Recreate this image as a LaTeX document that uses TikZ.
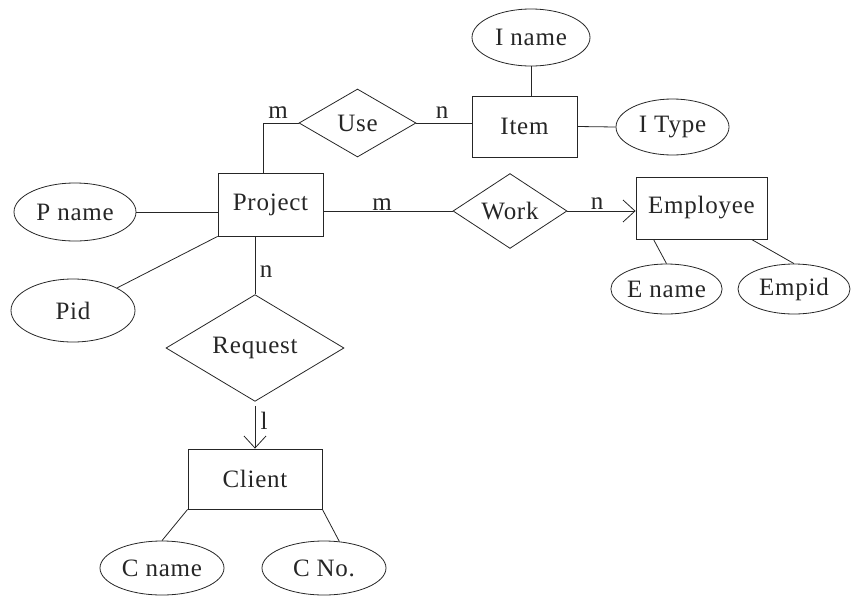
\documentclass[tikz,border=0pt]{standalone}
\usepackage{fontspec}
\setmainfont{Liberation Serif}[LetterSpace=3]
\usetikzlibrary{shapes.geometric,arrows.meta}
\begin{document}
\begin{tikzpicture}[x=1pt,y=-1pt,
  every node/.style={font=\fontsize{25}{29}\selectfont, text=black!85},
  ent/.style={draw=black!85, line width=0.8pt, rectangle, inner sep=0pt},
  attr/.style={draw=black!85, line width=0.8pt, ellipse, inner sep=0pt},
  rel/.style={draw=black!85, line width=0.8pt, diamond, inner sep=0pt},
  lbl/.style={inner sep=0pt},
  conn/.style={draw=black!85, line width=0.8pt},
  arr/.style={conn, -{Straight Barb[length=12pt,width=22pt,line width=0.8pt]}}]
\useasboundingbox (0,0) rectangle (852,595);
% entities
\node[ent, minimum width=105pt, minimum height=63pt] (project) at (270.5,204.5) {Project};
\node[ent, minimum width=105pt, minimum height=61pt] (item) at (524.5,126.5) {Item};
\node[ent, minimum width=131pt, minimum height=62pt] (employee) at (701.5,208) {Employee};
\node[ent, minimum width=134pt, minimum height=60pt] (client) at (255,479) {Client};
% attributes
\node[attr, minimum width=122pt, minimum height=58pt] (pname) at (75,212) {P name};
\node[attr, minimum width=124pt, minimum height=63pt] (pid) at (73,310.5) {Pid};
\node[attr, minimum width=118pt, minimum height=57pt] (iname) at (531,37.5) {I name};
\node[attr, minimum width=113pt, minimum height=56pt] (itype) at (672.5,127) {I Type};
\node[attr, minimum width=111pt, minimum height=50pt] (ename) at (666.5,289) {E name};
\node[attr, minimum width=112pt, minimum height=50pt] (empid) at (794,289) {Empid};
\node[attr, minimum width=124pt, minimum height=54pt] (cname) at (162,568) {C name};
\node[attr, minimum width=124pt, minimum height=54pt] (cno) at (324,568) {C No.};
% relationships
\node[rel, minimum width=117pt, minimum height=68pt] (use) at (357.5,123) {Use};
\node[rel, minimum width=114pt, minimum height=70pt] (work) at (510,211) {Work};
\node[rel, minimum width=178pt, minimum height=102pt] (request) at (255,348) {Request};
% connectors
\draw[conn] (iname.south) -- (iname.south |- item.north);
\draw[conn] (item.east) -- (itype.west);
\draw[conn] (use.east) -- (use.east -| item.west);
\coordinate (ptop) at ([xshift=-7.5pt]project.north);
\draw[conn] (use.west) -| (ptop);
\draw[conn] (pname.east) -- (pname.east -| project.west);
\draw[conn] (pid) -- (project.south west);
\draw[conn] (project.east |- work.west) -- (work.west);
\draw[arr] (work.east) -- (work.east -| employee.west);
\draw[conn] (request.north |- project.south) -- (request.north);
\draw[arr, shorten <=4pt] (request.south) -- (client.north);
\draw[conn] (client.south west) -- (cname.north);
\draw[conn] (client.south east) -- (cno.60);
\draw[conn] ([xshift=-48pt]employee.south) -- (ename.north);
\draw[conn] ([xshift=50pt]employee.south) -- (empid.north);
% cardinality labels
\node[lbl] (m1) at (278,113) {m};
\node[lbl] (n1) at (442,113) {n};
\node[lbl] (m2) at (382,204.5) {m};
\node[lbl] (n2) at (597,204) {n};
\node[lbl] (n3) at (266,272) {n};
\node[lbl] (l1) at (264,421) {l};
\end{tikzpicture}
\end{document}
